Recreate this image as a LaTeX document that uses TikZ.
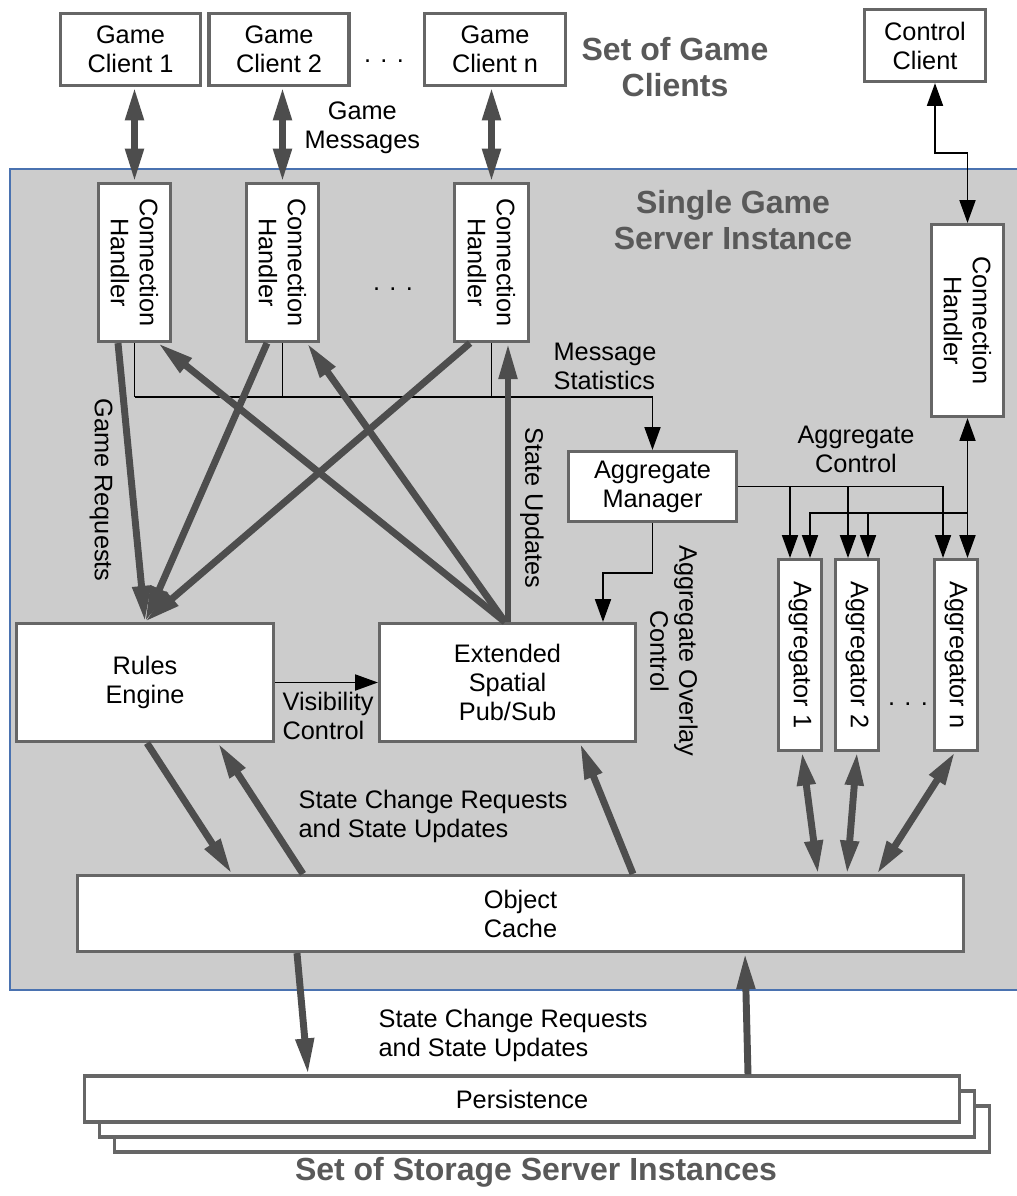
\documentclass[tikz,border=0pt]{standalone}
\usepackage{fontspec}
\setmainfont{Liberation Sans}
\usetikzlibrary{arrows.meta,calc}
\definecolor{panelgray}{HTML}{CCCCCC}
\definecolor{panelline}{HTML}{4A72B0}
\definecolor{boxgray}{HTML}{666666}
\definecolor{arrowgray}{HTML}{4D4D4D}
\definecolor{titlegray}{HTML}{595959}
\newcommand\lblfont{\fontsize{19}{21.75}\selectfont}
\newcommand\ttlfont{\fontsize{24}{27}\selectfont\bfseries}
\begin{document}
\begin{tikzpicture}[x=0.75pt,y=-0.75pt,
  gbox/.style={draw=boxgray, line width=2.4pt, fill=white, inner sep=0pt,
               font=\lblfont, align=center},
  sz/.style 2 args={minimum width=#1*0.75pt, minimum height=#2*0.75pt},
  lbl/.style={font=\lblfont, align=center, inner sep=1pt},
  ttl/.style={font=\ttlfont, text=titlegray, align=center, inner sep=1pt},
  heavyarrow/.style={draw=arrowgray, line width=5.2pt,
                     -{Triangle[length=27pt,width=13pt]}},
  heavyboth/.style={draw=arrowgray, line width=5.2pt,
                    {Triangle[length=25pt,width=13pt]}-{Triangle[length=25pt,width=13pt]}},
  lightarrow/.style={draw=black, line width=1.1pt,
                     -{Triangle[length=17pt,width=12pt]}},
  lightboth/.style={draw=black, line width=1.1pt,
                    {Triangle[length=17pt,width=12pt]}-{Triangle[length=17pt,width=12pt]}},
  lightline/.style={draw=black, line width=1.1pt}
]
\useasboundingbox (0,0) rectangle (1017,1196);
\fill[white] (0,0) rectangle (1017,1196);

% server instance panel
\filldraw[fill=panelgray, draw=panelline, line width=0.8pt] (10,169) rectangle (1030,990);

% clients
\node[gbox, sz={140}{72}] (gc1) at (130.5,49.5) {Game\\Client 1};
\node[gbox, sz={140}{72}] (gc2) at (279,49.5) {Game\\Client 2};
\node[gbox, sz={141}{72}] (gcn) at (495,49.5) {Game\\Client n};
\node[gbox, sz={121}{72}] (cc) at (925,45.5) {Control\\Client};
\node[lbl, anchor=base] (dots1) at (384,62) {.\hskip 7pt.\hskip 7pt.};
\node[ttl] (tclients) at (675,67) {Set of Game\\Clients};
\node[lbl, anchor=west] (lgm) at (303,128) {Game\\Messages};

% connection handlers
\node[gbox, sz={72}{158}] (ch1) at (134.5,262.5) {};
\node[gbox, sz={72}{158}] (ch2) at (282.5,262.5) {};
\node[gbox, sz={74}{158}] (chn) at (491.5,262.5) {};
\node[gbox, sz={72}{192}] (chc) at (967.5,320.5) {};
\node[lbl, rotate=-90] at (ch1) {Connection\\Handler};
\node[lbl, rotate=-90] at (ch2) {Connection\\Handler};
\node[lbl, rotate=-90] at (chn) {Connection\\Handler};
\node[lbl, rotate=-90] at (chc) {Connection\\Handler};
\node[lbl, anchor=base] (dots2) at (393,290) {.\hskip 7pt.\hskip 7pt.};
\node[ttl] (tserver) at (733,220) {Single Game\\Server Instance};

% core components
\node[gbox, sz={168}{70}] (am) at (652.5,486.5) {Aggregate\\Manager};
\node[gbox, sz={257}{118}] (re) at (145,682.5) {Rules\\Engine};
\node[gbox, sz={256}{118}] (esps) at (507.5,682.5) {Extended\\Spatial\\Pub/Sub};

% aggregators
\node[gbox, sz={43}{191}] (agg1) at (800,655) {};
\node[gbox, sz={43}{191}] (agg2) at (857,655) {};
\node[gbox, sz={43}{191}] (aggn) at (956,655) {};
\node[lbl, rotate=-90] at (agg1) {Aggregator 1};
\node[lbl, rotate=-90] at (agg2) {Aggregator 2};
\node[lbl, rotate=-90] at (aggn) {Aggregator n};
\node[lbl, anchor=base] (dots3) at (908,705) {.\hskip 7pt.\hskip 7pt.};

% object cache and storage
\node[gbox, sz={886}{76}] (oc) at (520.5,913.5) {Object\\Cache};
\node[gbox, sz={875}{46}] (p3) at (552,1129) {};
\node[gbox, sz={875}{46}] (p2) at (537,1114) {};
\node[gbox, sz={875}{46}] (p1) at (522,1099) {Persistence};
\node[ttl] (tstorage) at (536,1172) {Set of Storage Server Instances};

% labels
\node[lbl, anchor=west, align=left] (lms) at (552,366) {Message\\Statistics};
\node[lbl, rotate=-90] (lgr) at (101,490) {Game Requests};
\node[lbl, rotate=-90] (lsu) at (532,508) {State Updates};
\node[lbl] (lac) at (856,449) {Aggregate\\Control};
\node[lbl, anchor=west, align=left] (lvc) at (281,716) {Visibility\\Control};
\node[lbl, rotate=-90] (laoc) at (674,651) {Aggregate Overlay\\Control};
\node[lbl, anchor=west, align=left] (lsc1) at (297,816) {State Change Requests\\and State Updates};
\node[lbl, anchor=west, align=left] (lsc2) at (377,1035) {State Change Requests\\and State Updates};

% thin control connectors
\coordinate (msrow) at (0,397);
\coordinate (acrow) at (0,487);
\coordinate (ccrow) at (0,513);
\coordinate (a1l) at ($(agg1.north)+(-10,0)$);
\coordinate (a1r) at ($(agg1.north)+(10,0)$);
\coordinate (a2l) at ($(agg2.north)+(-9,0)$);
\coordinate (a2r) at ($(agg2.north)+(11,0)$);
\coordinate (anl) at ($(aggn.north)+(-13,0)$);

\draw[lightline] (ch1.south) -- (ch1.south |- msrow);
\draw[lightline] (ch2.south) -- (ch2.south |- msrow);
\draw[lightline] (chn.south) -- (chn.south |- msrow);
\draw[lightarrow] (ch1.south |- msrow) -| (am.north);

\draw[lightarrow] (am.south) -- ++(0,50) -| ($(esps.north)+(95.5,0)$);
\draw[lightarrow] (re.east) -- (esps.west);

\draw[lightarrow] (am.east) -| (anl);
\draw[lightarrow] (a1l |- am.east) -- (a1l);
\draw[lightarrow] (a2l |- am.east) -- (a2l);

\draw[lightboth] (chc.south) -- (chc.south |- aggn.north);
\draw[lightarrow] (chc.south |- ccrow) -| (a1r);
\draw[lightarrow] (a2r |- ccrow) -- (a2r);

\draw[lightboth] ([xshift=7.5pt]cc.south) |- ($(chc.north)+(0,-70)$) -- (chc.north);

% client traffic
\draw[heavyboth] (gc1.south -| ch1.north) -- (ch1.north);
\draw[heavyboth] (gc2.south -| ch2.north) -- (ch2.north);
\draw[heavyboth] (gcn.south -| chn.north) -- (chn.north);

% game requests into the rules engine
\draw[heavyarrow] ($(ch1.south)+(-16.5,0)$) -- (re.north);
\draw[heavyarrow] ($(ch2.south)+(-15.5,0)$) -- (re.north);
\draw[heavyarrow] ($(chn.south)+(-21.5,0)$) -- (re.north);

% state updates back to the handlers
\draw[heavyarrow] ($(esps.north)+(-2.5,0)$) -- ($(ch1.south)+(23.5,0)$);
\draw[heavyarrow] ($(esps.north)+(-2.5,0)$) -- ($(ch2.south)+(24.5,0)$);
\draw[heavyarrow] ($(esps.north)+(0.5,0)$) -- ($(chn.south)+(16.5,0)$);

% object cache traffic
\draw[heavyarrow] ($(re.south)+(2,0)$) -- ($(oc.north)+(-288.5,0)$);
\draw[heavyarrow] ($(oc.north)+(-217.5,0)$) -- ($(re.south)+(73,0)$);
\draw[heavyarrow] ($(oc.north)+(112.5,0)$) -- ($(esps.south)+(72.5,0)$);
\draw[heavyboth] ($(agg1.south)+(2,0)$) -- ($(oc.north)+(297.5,0)$);
\draw[heavyboth] (agg2.south) -- ($(oc.north)+(326.5,0)$);
\draw[heavyboth] ($(aggn.south)+(-1,0)$) -- ($(oc.north)+(356.5,0)$);

% persistence traffic
\draw[heavyarrow] ($(oc.south)+(-223.5,0)$) -- ($(p1.north)+(-214,0)$);
\draw[heavyarrow] ($(p1.north)+(226,0)$) -- ($(oc.south)+(224.5,0)$);
\end{tikzpicture}
\end{document}
